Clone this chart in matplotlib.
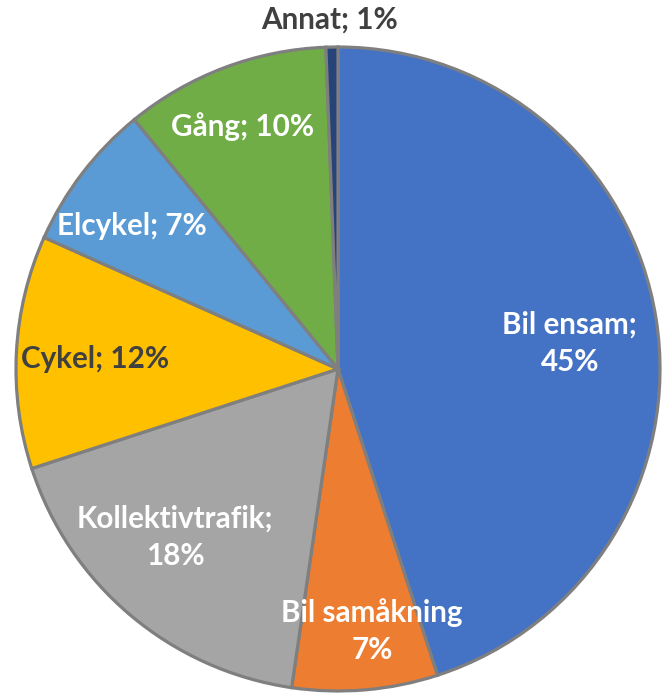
import matplotlib
matplotlib.use('Agg')
import matplotlib.pyplot as plt

# data, clockwise from 12 o'clock
categories = ['Bil ensam', 'Bil samåkning', 'Kollektivtrafik', 'Cykel', 'Elcykel', 'Gång', 'Annat']
shares = [45.0, 7.3, 17.7, 11.7, 7.4, 10.3, 0.6]
label_texts = ['Bil ensam;\n45%', 'Bil samåkning\n7%', 'Kollektivtrafik;\n18%', 'Cykel; 12%',
               'Elcykel; 7%', 'Gång; 10%', 'Annat; 1%']
colors = ['#4472C4', '#ED7D31', '#A5A5A5', '#FFC000', '#5B9BD5', '#70AD47', '#264478']
text_colors = ['white', 'white', 'white', '#404040', 'white', 'white', '#404040']
# label anchor points in pie units (radius = 1)
label_xy = [(0.72, 0.08), (0.106, -0.814), (-0.506, -0.522), (-0.755, 0.03),
            (-0.64, 0.444), (-0.295, 0.752), (-0.025, 1.084)]

W, H = 664, 695
fig = plt.figure(figsize=(W / 100, H / 100), dpi=100)
cx, cy, r = 338, 369, 322
ax = fig.add_axes([(cx - r) / W, (H - cy - r) / H, 2 * r / W, 2 * r / H])

wedges, _ = ax.pie(shares, colors=colors, startangle=90, counterclock=False, radius=1,
                   wedgeprops=dict(edgecolor='#7F7F7F', linewidth=2.3))
ax.set_xlim(-1, 1)
ax.set_ylim(-1, 1)
ax.axis('off')

for txt, tc, (x, y) in zip(label_texts, text_colors, label_xy):
    ax.text(x, y, txt, ha='center', va='center', color=tc, fontsize=21.3,
            fontweight='bold', family='Lato', linespacing=1.4)

fig.savefig('out.png', dpi=100)
